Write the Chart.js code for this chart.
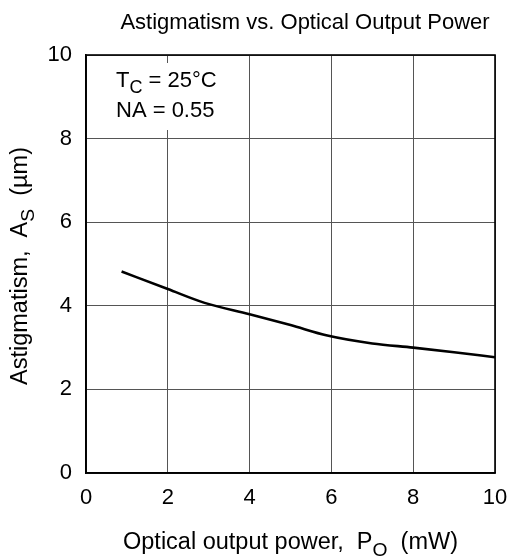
<!DOCTYPE html>
<html>
<head>
<meta charset="utf-8">
<script src="https://cdn.jsdelivr.net/npm/chart.js@4/dist/chart.umd.min.js"></script>
<style>
  html, body { margin: 0; padding: 0; background: #fff; }
  canvas { display: block; }
</style>
</head>
<body>
<canvas id="chart" width="513" height="558"></canvas>
<script>
// values
const powerMw = [0.87, 2, 2.9, 4, 5, 5.9, 7, 8, 9, 10];
const astigmatismUm = [4.82, 4.40, 4.07, 3.80, 3.54, 3.29, 3.10, 3.00, 2.89, 2.77];
const axisMin = 0;
const axisMax = 10;
const axisStep = 2;

const titleText = "Astigmatism vs. Optical Output Power";
const xTitleParts = [["Optical output power,  P", false], ["O", true], ["  (mW)", false]];
const yTitleParts = [["Astigmatism,  A", false], ["S", true], ["  (\u00b5m)", false]];
const noteLines = [
  [["T", false], ["C", true], [" = 25\u00b0C", false]],
  [["NA = 0.55", false]],
];

const FONT = "'Liberation Sans', Arial, Helvetica, sans-serif";
const SIZE = 22;
const AXIS_TITLE_SIZE = 23.5;

// draws text with subscripts, left edge at x (or centred if center=true)
const drawParts = (ctx, parts, x, y, size, center) => {
  const subSize = size * 0.82;
  const drop = size * 0.28;
  const widths = parts.map(([t, sub]) => {
    ctx.font = `${sub ? subSize : size}px ${FONT}`;
    return ctx.measureText(t).width;
  });
  const total = widths.reduce((a, b) => a + b, 0);
  let cx = center ? x - total / 2 : x;
  parts.forEach(([t, sub], i) => {
    ctx.font = `${sub ? subSize : size}px ${FONT}`;
    ctx.fillText(t, cx, sub ? y + drop : y);
    cx += widths[i];
  });
};

const textPlugin = {
  id: "texts",
  beforeDatasetsDraw(chart) {
    const { ctx, chartArea } = chart;
    ctx.save();
    // white patch behind the condition note
    ctx.fillStyle = "#fff";
    ctx.fillRect(chartArea.left + 18, chartArea.top + 8, 132, 67);
    ctx.fillStyle = "#000";
    ctx.textAlign = "left";
    ctx.textBaseline = "alphabetic";
    drawParts(ctx, noteLines[0], chartArea.left + 30, chartArea.top + 32, SIZE, false);
    drawParts(ctx, noteLines[1], chartArea.left + 30, chartArea.top + 62, SIZE, false);
    ctx.restore();
  },
  afterDraw(chart) {
    const { ctx, chartArea } = chart;
    const midX = (chartArea.left + chartArea.right) / 2;
    const midY = (chartArea.top + chartArea.bottom) / 2;
    ctx.save();
    ctx.strokeStyle = "#000";
    ctx.lineWidth = 1.6;
    ctx.strokeRect(chartArea.left, chartArea.top, chartArea.right - chartArea.left, chartArea.bottom - chartArea.top);

    ctx.fillStyle = "#000";
    ctx.textAlign = "left";
    ctx.textBaseline = "alphabetic";
    drawParts(ctx, [[titleText, false]], 305, 29, SIZE, true);
    drawParts(ctx, xTitleParts, midX, 549, AXIS_TITLE_SIZE, true);

    ctx.translate(27, midY + 2);
    ctx.rotate(-Math.PI / 2);
    drawParts(ctx, yTitleParts, 0, 0, AXIS_TITLE_SIZE, true);
    ctx.restore();
  },
};

const tickFont = { family: FONT, size: SIZE };

new Chart(document.getElementById("chart"), {
  type: "line",
  data: {
    datasets: [{
      data: powerMw.map((x, i) => ({ x, y: astigmatismUm[i] })),
      borderColor: "#000",
      borderWidth: 2.6,
      pointRadius: 0,
      tension: 0.4,
      cubicInterpolationMode: "monotone",
      fill: false,
    }],
  },
  options: {
    responsive: false,
    animation: false,
    layout: { padding: { top: 55, right: 18, left: 0, bottom: 0 } },
    plugins: {
      legend: { display: false },
      tooltip: { enabled: false },
    },
    scales: {
      x: {
        type: "linear",
        min: axisMin,
        max: axisMax,
        afterFit: (s) => {
          s.height = 85;
          s.paddingLeft = 0;
          s.paddingRight = 0;
        },
        ticks: { stepSize: axisStep, color: "#000", font: tickFont, padding: 12, maxRotation: 0 },
        grid: { color: "#555", lineWidth: 1, drawTicks: false },
        border: { color: "#000", width: 1.6 },
      },
      y: {
        type: "linear",
        min: axisMin,
        max: axisMax,
        afterFit: (s) => {
          s.width = 86;
          s.paddingTop = 0;
          s.paddingBottom = 0;
        },
        ticks: { stepSize: axisStep, color: "#000", font: tickFont, padding: 14 },
        grid: { color: "#555", lineWidth: 1, drawTicks: false },
        border: { color: "#000", width: 1.6 },
      },
    },
  },
  plugins: [textPlugin],
});
</script>
</body>
</html>
